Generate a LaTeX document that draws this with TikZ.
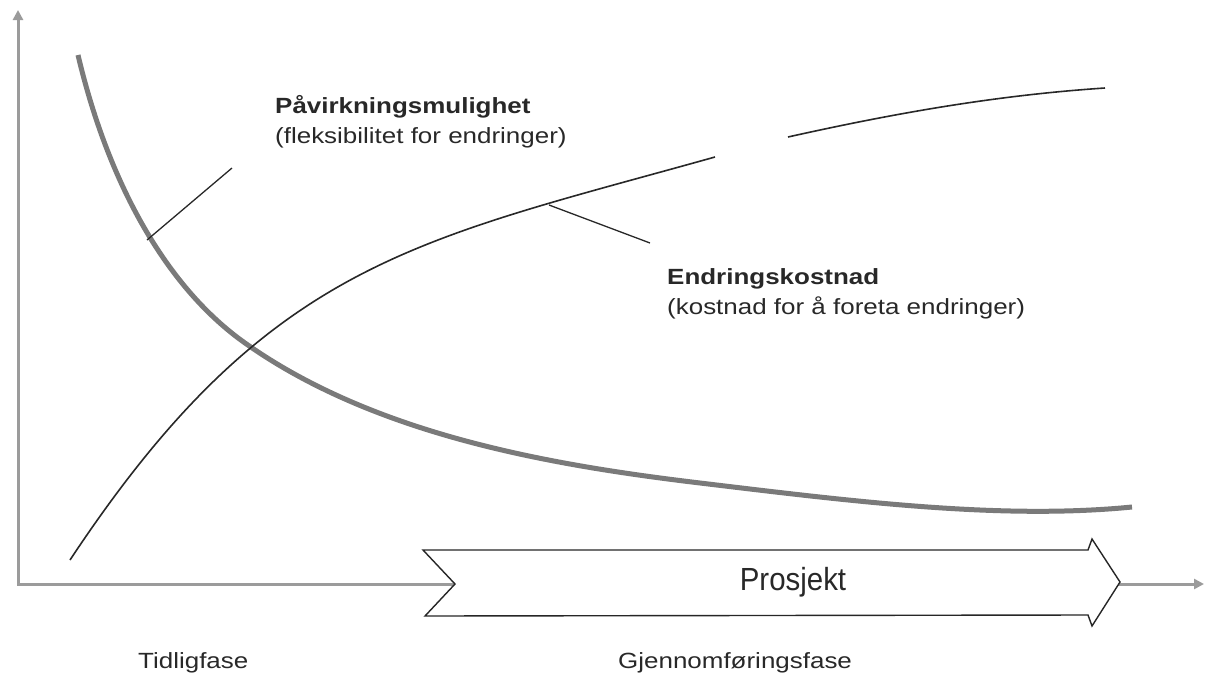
\documentclass[tikz,border=0pt]{standalone}
\usepackage{fontspec}
\setmainfont[FakeStretch=1.18]{Liberation Sans}
\newfontfamily\prosjektfont[FakeStretch=0.92]{Liberation Sans}
\usepackage{tikz}
\usetikzlibrary{arrows.meta,positioning}
\definecolor{axisgray}{RGB}{155,155,155}
\definecolor{curvegray}{RGB}{122,122,122}
\definecolor{inkgray}{RGB}{40,40,40}
\tikzset{
  axisline/.style={draw=axisgray, line width=3pt},
  flexcurve/.style={draw=curvegray, line width=5pt},
  costcurve/.style={draw=inkgray, line width=1.6pt},
  leader/.style={draw=inkgray, line width=1.3pt},
  chevron/.style={draw=black!85, line width=1.4pt, fill=white, line join=miter},
  labeltitle/.style={font=\fontsize{22}{26}\selectfont\bfseries, text=inkgray,
    inner sep=0pt, anchor=base west},
  labelsub/.style={font=\fontsize{22}{26}\selectfont, text=inkgray,
    inner sep=0pt, anchor=base west},
  phasetext/.style={font=\fontsize{22}{26}\selectfont, text=inkgray,
    inner sep=0pt, anchor=base west}
}

\begin{document}
\begin{tikzpicture}[x=1pt, y=-1pt]
\useasboundingbox (0,0) rectangle (1205,675);

% axes
\coordinate (ytip) at (18,10);
\coordinate (origin) at (18,584);
\coordinate (xtip) at (1204,584);
\draw[axisline, {Triangle[length=10pt,width=10pt]}-{Triangle[length=10pt,width=10pt]}]
  (ytip) -- (origin) -- (xtip);

% project chevron
\draw[chevron] (423,550) -- (1088,550) -- (1092,539) -- (1120,582)
  -- (1092,626) -- (1088,615) -- (425,616) -- (455,584) -- cycle;
\node[font=\prosjektfont\fontsize{32}{36}\selectfont, text=inkgray] (prosjekt) at (793,582) {Prosjekt};

% flexibility curve
\draw[flexcurve] (78,55) .. controls (110,190) and (170,290) .. (245,343)
  .. controls (375,435) and (550,465) .. (700,483)
  .. controls (850,501) and (1000,520) .. (1132,507);

% cost curve (with gap)
\draw[costcurve] (70,560) .. controls (268,261) and (415,241) .. (715,157);
\draw[costcurve] (788,137) .. controls (900,112) and (1000,95) .. (1105,88);

% labels
\coordinate (pavFoot) at (147,240);
\coordinate (pavEnd) at (232,168);
\draw[leader] (pavFoot) -- (pavEnd);
\node[labeltitle] (pavTitle) at (275,113) {Påvirkningsmulighet};
\node[labelsub] (pavSub) at (275,143) {(fleksibilitet for endringer)};

\coordinate (kostFoot) at (549,205);
\coordinate (kostEnd) at (650,243);
\draw[leader] (kostFoot) -- (kostEnd);
\node[labeltitle] (kostTitle) at (667,284) {Endringskostnad};
\node[labelsub] (kostSub) at (667,314) {(kostnad for å foreta endringer)};

% phases
\node[phasetext] (tidlig) at (138,668) {Tidligfase};
\node[phasetext] (gjennom) at (618,668) {Gjennomføringsfase};
\end{tikzpicture}
\end{document}
